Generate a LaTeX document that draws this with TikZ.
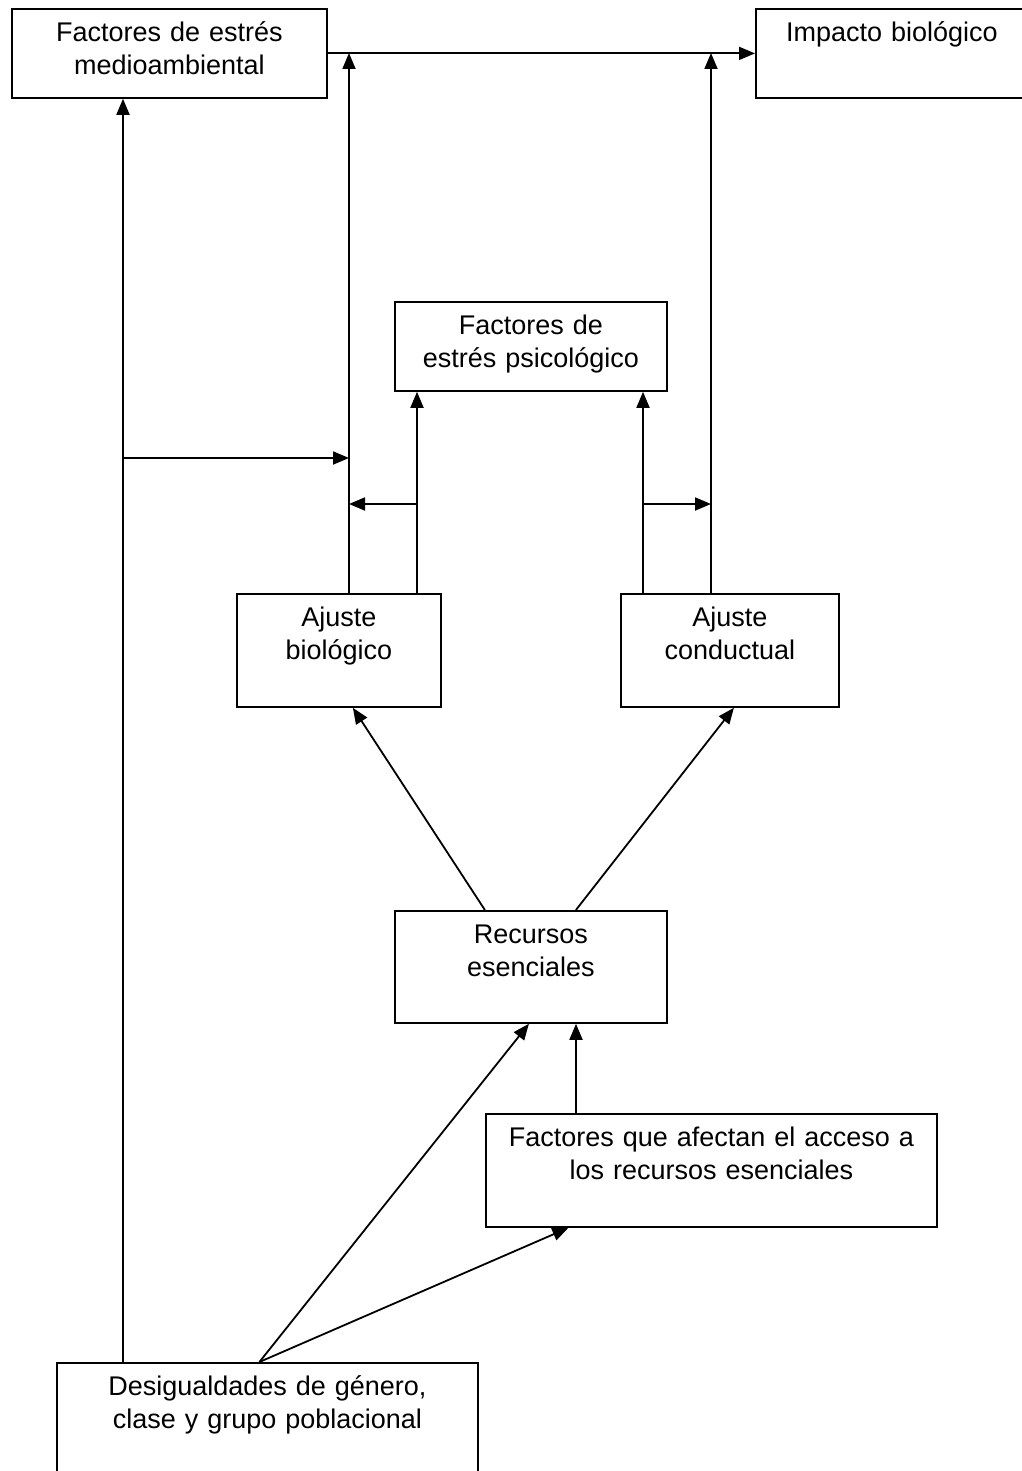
\documentclass[tikz,border=0pt]{standalone}
\usepackage{fontspec}
\setmainfont{Liberation Sans}
\usetikzlibrary{arrows.meta}

\tikzset{
  box/.style={draw=black, line width=1.8pt, inner sep=0pt, align=center,
              anchor=north west, text height=33pt,
              font=\fontsize{27}{33}\selectfont},
  arr/.style={line width=1.8pt, -{Triangle[length=16pt,width=13pt]}}
}

\begin{document}
\begin{tikzpicture}[x=1pt,y=-1pt]
        \useasboundingbox (0,0) rectangle (1021,1471);

        % boxes
        \node[box, text width=315pt, text depth=56pt] (env) at (11,8)    {Factores de estrés\\medioambiental};
        \node[box, text width=272pt, text depth=56pt] (imp) at (755,8)   {Impacto biológico};
        \node[box, text width=272pt, text depth=56pt] (psy) at (394,301) {Factores de\\estrés psicológico};
        \node[box, text width=204pt, text depth=80pt] (ajb) at (236,593) {Ajuste\\biológico};
        \node[box, text width=218pt, text depth=80pt] (ajc) at (620,593) {Ajuste\\conductual};
        \node[box, text width=272pt, text depth=79pt] (rec) at (394,910) {Recursos\\esenciales};
        \node[box, text width=451pt, text depth=80pt] (acc) at (485,1113) {Factores que afectan el acceso a\\los recursos esenciales};
        \node[box, text width=421pt, text depth=127pt] (des) at (56,1362) {Desigualdades de género,\\clase y grupo poblacional};

        % junctions
        \coordinate (jb) at (349,53);
        \coordinate (jc) at (711,53);
        \coordinate (jd) at (123,458);
        \coordinate (pb) at (417,504);
        \coordinate (pc) at (643,504);

        \path [arr](env) edge (imp);
        \path [arr](ajb.north -| jb) edge (jb);
        \path [arr](ajc.north -| jc) edge (jc);
        \path [arr](des.north -| jd) edge (env.south -| jd);
        \path [arr](jd) edge (jd -| jb);
        \path [arr](ajb.north -| pb) edge (psy.south -| pb);
        \path [arr](ajc.north -| pc) edge (psy.south -| pc);
        \path [arr](pb) edge (pb -| jb);
        \path [arr](pc) edge (pc -| jc);
        \path [arr]([xshift=-46pt]rec.north) edge ([xshift=14pt]ajb.south);
        \path [arr]([xshift=45pt]rec.north) edge ([xshift=4pt]ajc.south);
        \path [arr]([xshift=-8pt]des.north) edge ([xshift=-2pt]rec.south);
        \path [arr]([xshift=-8pt]des.north) edge ([xshift=-143pt]acc.south);
        \path [arr](acc.north -| 576,0) edge (rec.south -| 576,0);
\end{tikzpicture}
\end{document}
